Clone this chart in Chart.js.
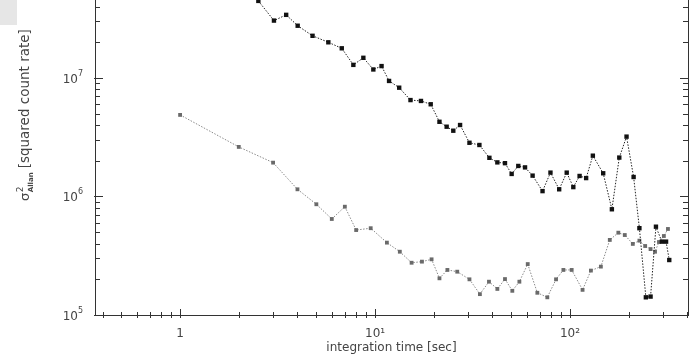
<!DOCTYPE html>
<html>
<head>
<meta charset="utf-8">
<script src="https://cdn.jsdelivr.net/npm/chart.js@4.4.1/dist/chart.umd.min.js"></script>
<style>
  html, body { margin: 0; padding: 0; background: #fff; }
  #wrap { position: relative; width: 692px; height: 355px; }
  #corner { position: absolute; left: 0; top: 0; width: 17px; height: 25px; background: #e6e6e6; }
</style>
</head>
<body>
<div id="wrap">
  <canvas id="allanChart" width="692" height="355"></canvas>
  <div id="corner"></div>
</div>
<script>
  // Allan variance vs integration time, two sources
  const grayTime = [1, 2, 3, 4, 5, 6, 7, 8, 9.5, 11.5, 13.4, 15.4, 17.4, 19.5, 21.4, 23.5, 26.4, 30.5, 34.5, 38.4,
    42.4, 46.4, 50.6, 55, 60.7, 68, 76.5, 84.8, 92.5, 102, 116, 128, 144, 160, 177, 191, 210, 227, 243, 259,
    273, 286, 303, 318];
  const grayVar = [4.88e6, 2.62e6, 1.93e6, 1.15e6, 8.6e5, 6.46e5, 8.2e5, 5.21e5, 5.4e5, 4.08e5, 3.42e5, 2.76e5,
    2.82e5, 2.95e5, 2.04e5, 2.4e5, 2.32e5, 2.0e5, 1.5e5, 1.91e5, 1.66e5, 2.01e5, 1.6e5, 1.91e5, 2.69e5, 1.54e5,
    1.41e5, 2.0e5, 2.4e5, 2.4e5, 1.63e5, 2.37e5, 2.56e5, 4.3e5, 4.95e5, 4.73e5, 3.98e5, 4.24e5, 3.82e5, 3.6e5,
    3.42e5, 4.13e5, 4.64e5, 5.32e5];

  const blackTime = [2.52, 3.03, 3.5, 4.01, 4.78, 5.76, 6.75, 7.74, 8.71, 9.8, 10.8, 11.8, 13.3, 15.2, 17.2,
    19.3, 21.4, 23.3, 25.2, 27.3, 30.5, 34.3, 38.6, 42.4, 46.4, 50.2, 54.3, 58.8, 64.3, 72.3, 79.4, 88, 96.2,
    104, 112, 121, 131, 148, 164, 179, 195, 212, 227, 245, 259, 276, 296, 311, 323];
  const blackVar = [4.47e7, 3.05e7, 3.41e7, 2.76e7, 2.27e7, 2.0e7, 1.78e7, 1.29e7, 1.48e7, 1.18e7, 1.26e7,
    9.44e6, 8.28e6, 6.51e6, 6.4e6, 6.0e6, 4.27e6, 3.88e6, 3.59e6, 4.01e6, 2.84e6, 2.72e6, 2.12e6, 1.94e6,
    1.91e6, 1.55e6, 1.81e6, 1.76e6, 1.5e6, 1.11e6, 1.59e6, 1.15e6, 1.59e6, 1.2e6, 1.49e6, 1.43e6, 2.21e6,
    1.57e6, 7.8e5, 2.13e6, 3.2e6, 1.46e6, 5.4e5, 1.41e5, 1.43e5, 5.56e5, 4.16e5, 4.16e5, 2.91e5];

  // decade labels: x via the scale callback, y exponents drawn as 10 + superscript
  const xTickLabels = { '1': '1', '10': '10\u00b9', '100': '10\u00b2' };
  const yDecades = [5, 6, 7];

  const xTitle = 'integration time [sec]';
  const yTitle = '[squared count rate]';

  const FONT = '"DejaVu Sans", "Liberation Sans", sans-serif';

  function toPoints(xs, ys) {
    return xs.map((x, i) => ({ x: x, y: ys[i] }));
  }

  function isDecade(v) {
    const l = Math.log10(v);
    return Math.abs(l - Math.round(l)) < 1e-9;
  }

  // frame, inward minor/major ticks, y labels and the rotated y title
  const framePlugin = {
    id: 'frame',
    afterDraw(chart) {
      const ctx = chart.ctx;
      const a = chart.chartArea;
      const xs = chart.scales.x;
      const ys = chart.scales.y;
      ctx.save();
      ctx.strokeStyle = '#333';
      ctx.lineWidth = 1;
      ctx.beginPath();
      ctx.moveTo(a.left + 0.5, a.top);
      ctx.lineTo(a.left + 0.5, a.bottom + 0.5);
      ctx.lineTo(a.right + 0.5, a.bottom + 0.5);
      ctx.lineTo(a.right + 0.5, a.top);
      for (let e = -1; e <= 2; e++) {
        for (let m = 1; m <= 9; m++) {
          const v = m * Math.pow(10, e);
          if (v <= xs.min || v >= xs.max) continue;
          const px = Math.round(xs.getPixelForValue(v)) + 0.5;
          ctx.moveTo(px, a.bottom - (m === 1 ? 6 : 3));
          ctx.lineTo(px, a.bottom + 3);
        }
      }
      for (let e = 5; e <= 7; e++) {
        for (let m = 1; m <= 9; m++) {
          const v = m * Math.pow(10, e);
          if (v < ys.min || v > ys.max) continue;
          const py = Math.round(ys.getPixelForValue(v)) + 0.5;
          const len = m === 1 ? 8 : 5;
          ctx.moveTo(a.left - (m === 1 ? 1 : 0), py);
          ctx.lineTo(a.left + len, py);
          ctx.moveTo(a.right - len, py);
          ctx.lineTo(a.right + 1, py);
        }
      }
      ctx.stroke();

      ctx.fillStyle = '#444';
      ctx.textAlign = 'right';
      ctx.textBaseline = 'alphabetic';
      yDecades.forEach((e) => {
        const py = ys.getPixelForValue(Math.pow(10, e));
        const right = a.left - 12;
        ctx.font = '8px ' + FONT;
        ctx.fillText(String(e), right, py - 2);
        const we = ctx.measureText(String(e)).width;
        ctx.font = '12px ' + FONT;
        ctx.fillText('10', right - we, py + 5);
      });

      // sigma^2 with "Allan" subscript, then the unit text
      ctx.textAlign = 'left';
      ctx.translate(29, 201);
      ctx.rotate(-Math.PI / 2);
      let x = 0;
      ctx.font = '13px ' + FONT;
      ctx.fillText('\u03c3', x, 0);
      x += ctx.measureText('\u03c3').width + 0.5;
      ctx.font = '9px ' + FONT;
      ctx.fillText('2', x, -6);
      const w2 = ctx.measureText('2').width;
      ctx.font = 'bold 7px ' + FONT;
      ctx.fillText('Allan', x, 4);
      x += Math.max(w2, ctx.measureText('Allan').width) + 4;
      ctx.font = '13.5px ' + FONT;
      ctx.fillText(yTitle, x, 0);
      ctx.restore();
    }
  };

  const ctx = document.getElementById('allanChart').getContext('2d');
  const allanChart = new Chart(ctx, {
    type: 'scatter',
    data: {
      datasets: [{
        label: 'source',
        data: toPoints(blackTime, blackVar),
        showLine: true,
        borderColor: '#222',
        borderWidth: 1,
        borderDash: [1.5, 1.5],
        pointStyle: 'rect',
        pointRadius: 3.1,
        pointBackgroundColor: '#111',
        pointBorderWidth: 0
      }, {
        label: 'background',
        data: toPoints(grayTime, grayVar),
        showLine: true,
        borderColor: '#8a8a8a',
        borderWidth: 1,
        borderDash: [1.5, 1.5],
        pointStyle: 'rect',
        pointRadius: 2.7,
        pointBackgroundColor: '#6a6a6a',
        pointBorderWidth: 0
      }]
    },
    options: {
      responsive: false,
      animation: false,
      events: [],
      layout: { autoPadding: false, padding: { left: 0, right: 4, top: 0, bottom: 0 } },
      plugins: {
        legend: { display: false },
        tooltip: { enabled: false }
      },
      scales: {
        x: {
          type: 'logarithmic',
          min: 0.366,
          max: 403,
          grid: { display: false },
          border: { display: false },
          ticks: {
            autoSkip: false,
            maxRotation: 0,
            padding: 4,
            color: '#444',
            font: { family: FONT, size: 12 },
            callback: (v) => isDecade(v) ? (xTickLabels[String(Math.round(v))] || '') : ''
          },
          title: {
            display: true,
            text: xTitle,
            color: '#444',
            padding: { top: -4, bottom: 0 },
            font: { family: FONT, size: 12 }
          },
          afterFit: (scale) => {
            scale.height = 40;
            scale.paddingLeft = 0;
            scale.paddingRight = 0;
          }
        },
        y: {
          type: 'logarithmic',
          min: 1e5,
          max: 4.55e7,
          grid: { display: false },
          border: { display: false },
          ticks: { display: false },
          afterFit: (scale) => { scale.width = 95; }
        }
      }
    },
    plugins: [framePlugin]
  });
</script>
</body>
</html>
